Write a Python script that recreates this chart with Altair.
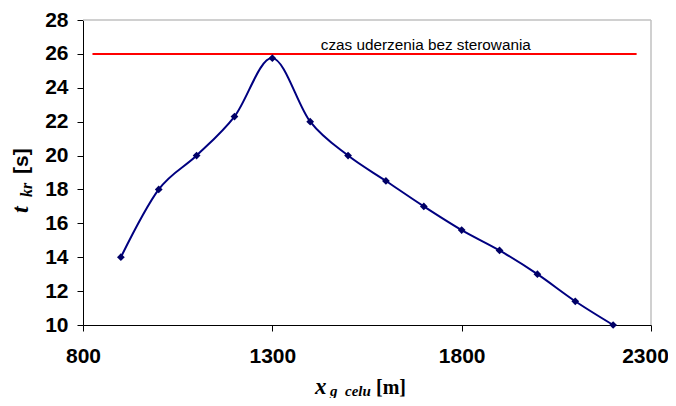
import altair as alt
import pandas as pd

# ---- data ----
x_target = [900, 1000, 1100, 1200, 1300, 1400, 1500, 1600, 1700, 1800, 1900, 2000, 2100, 2200]
t_kr = [14.0, 18.0, 20.0, 22.3, 25.75, 22.0, 20.0, 18.5, 17.0, 15.6, 14.4, 13.0, 11.4, 10.0]
ref_x = [825, 2262]
ref_t = [26, 26]
ref_label = "czas uderzenia bez sterowania"
ref_label_x = [1428]
x_ticks = [800, 1300, 1800, 2300]
y_ticks = [10, 12, 14, 16, 18, 20, 22, 24, 26, 28]
frame_x = [800, 2300]
frame_t = [10, 28]

df = pd.DataFrame({"x": x_target, "t": t_kr})
ref = pd.DataFrame({"x": ref_x, "t": ref_t})
lab = pd.DataFrame({"x": ref_label_x, "t": [ref_t[0]], "label": [ref_label]})
top_frame = pd.DataFrame({"x": [frame_x[0]], "x2": [frame_x[1]], "t": [frame_t[1]]})
right_frame = pd.DataFrame({"x": [frame_x[1]], "t": [frame_t[0]], "t2": [frame_t[1]]})
one = pd.DataFrame({"a": [0]})

xs = alt.Scale(domain=frame_x, nice=False, zero=False)
ys = alt.Scale(domain=frame_t, nice=False, zero=False)

xax = alt.Axis(values=x_ticks, format="d", title=None, grid=False,
               labelFont="Liberation Sans", labelFontSize=21, labelFontWeight="bold",
               labelColor="black", tickColor="black", domainColor="black",
               tickSize=6, labelPadding=14, labelFlush=False, labelOverlap=False,
               labelOffset={"condition": {"test": "datum.value == 2300", "value": -6}, "value": 0})
yax = alt.Axis(values=y_ticks, format="d", title=None, grid=False,
               labelFont="Liberation Sans", labelFontSize=21, labelFontWeight="bold",
               labelColor="black", tickColor="black", domainColor="black",
               tickSize=6, labelPadding=9, labelOverlap=False)

X = alt.X("x:Q", scale=xs, axis=xax)
Y = alt.Y("t:Q", scale=ys, axis=yax)

refline = alt.Chart(ref).mark_line(color="#ff0000", strokeWidth=2).encode(x=X, y=Y)

border_top = alt.Chart(top_frame).mark_rule(color="#c0c0c0", strokeWidth=1.5).encode(
    x=X, x2="x2:Q", y=Y)
border_right = alt.Chart(right_frame).mark_rule(color="#c0c0c0", strokeWidth=1.5).encode(
    x=X, y=Y, y2="t2:Q")

reftext = alt.Chart(lab).mark_text(
    align="left", baseline="alphabetic", dy=-4, font="Liberation Sans", fontSize=15.3, color="black"
).encode(x=X, y=Y, text="label:N")

curve = alt.Chart(df).mark_line(interpolate="cardinal", tension=0, color="#000080", strokeWidth=2).encode(x=X, y=Y)
points = alt.Chart(df).mark_point(shape="diamond", filled=True, size=60, color="#000066", opacity=1).encode(x=X, y=Y)

def label(txt, px, py, size, font, italic=False, bold=True, angle=0):
    kw = dict(align="left", baseline="alphabetic", font=font, fontSize=size,
              fontWeight="bold" if bold else "normal", color="black")
    if italic:
        kw["fontStyle"] = "italic"
    if angle:
        kw["angle"] = angle
    return alt.Chart(one).mark_text(**kw).encode(
        x=alt.value(px), y=alt.value(py), text=alt.value(txt))

titles = [
    label("x", 232, 374, 23, "Liberation Serif", italic=True),
    label("g\u00a0\u00a0celu", 247, 376, 15, "Liberation Serif", italic=True),
    label("[m]", 293, 374, 20, "Liberation Serif"),
    label("t", -55, 193, 24, "Liberation Serif", italic=True, angle=270),
    label("kr", -51.5, 177, 16, "Liberation Serif", italic=True, angle=270),
    label("[s]", -55, 154, 21, "Liberation Sans", angle=270),
]

chart = alt.layer(refline, border_top, border_right, reftext, curve, points, *titles).properties(
    width=568, height=305,
    autosize=alt.AutoSizeParams(type="none"),
    padding={"left": 75, "top": 12, "right": 17, "bottom": 73},
    background="white",
).configure_view(stroke=None)

chart.save("out.html", embed_options={"renderer": "svg", "actions": False})
